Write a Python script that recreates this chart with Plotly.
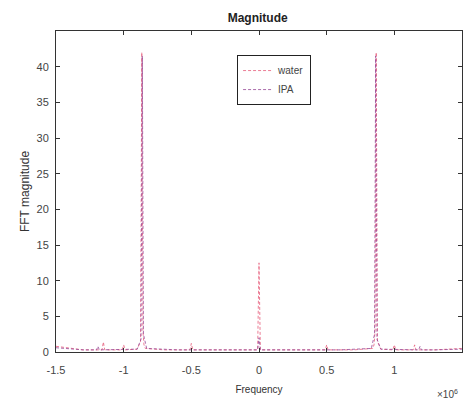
import plotly.graph_objects as go

# Frequency in units of 1e6 (axis shows x10^6 multiplier)
freq_water = [-1.5, -1.3, -1.16, -1.15, -1.14, -1.01, -1.0, -0.99, -0.9, -0.875, -0.866, -0.858,
              -0.85, -0.84, -0.7, -0.51, -0.5, -0.49, -0.3, -0.01, 0.0, 0.01, 0.3, 0.49, 0.5, 0.51,
              0.7, 0.84, 0.85, 0.858, 0.866, 0.875, 0.9, 0.99, 1.0, 1.01, 1.14, 1.15, 1.16, 1.3, 1.5]
mag_water = [0.8, 0.3, 0.3, 1.4, 0.3, 0.3, 1.0, 0.3, 0.4, 1.5, 42.0, 3.0,
             1.0, 0.5, 0.3, 0.3, 1.2, 0.3, 0.3, 0.3, 12.5, 0.3, 0.3, 0.3, 1.0, 0.3,
             0.3, 0.5, 1.0, 3.0, 42.0, 1.5, 0.4, 0.3, 1.0, 0.3, 0.3, 1.0, 0.3, 0.3, 0.5]

freq_ipa = [-1.5, -1.3, -1.2, -1.19, -1.18, -0.9, -0.872, -0.862, -0.854, -0.83, -0.6, -0.3,
            -0.01, 0.0, 0.01, 0.3, 0.6, 0.83, 0.854, 0.862, 0.872, 0.9, 1.18, 1.19, 1.2, 1.3, 1.5]
mag_ipa = [0.6, 0.3, 0.3, 0.8, 0.3, 0.4, 1.8, 41.5, 2.5, 0.5, 0.3, 0.3,
           0.3, 2.0, 0.3, 0.3, 0.3, 0.5, 2.5, 41.5, 1.8, 0.4, 0.3, 0.8, 0.3, 0.3, 0.4]

x_tickvals = [-1.5, -1.0, -0.5, 0.0, 0.5, 1.0]
x_ticktext = ["-1.5", "-1", "-0.5", "0", "0.5", "1"]
y_tickvals = [0, 5, 10, 15, 20, 25, 30, 35, 40]

fig = go.Figure()
fig.add_trace(go.Scatter(x=freq_water, y=mag_water, mode="lines", name="water",
                         line=dict(color="rgb(230,90,120)", width=0.8, dash="3px,2px")))
fig.add_trace(go.Scatter(x=freq_ipa, y=mag_ipa, mode="lines", name="IPA",
                         line=dict(color="rgb(150,70,150)", width=0.8, dash="3px,2px")))

axis_common = dict(showline=True, linecolor="#333", linewidth=1, mirror="allticks",
                   ticks="inside", ticklen=4, tickcolor="#333", showgrid=False,
                   zeroline=False, tickfont=dict(family="Liberation Sans", size=11, color="#444"))

fig.update_xaxes(range=[-1.5, 1.5], tickvals=x_tickvals, ticktext=x_ticktext,
                 ticklabelstandoff=8,
                 title=dict(text="Frequency", font=dict(family="Liberation Sans", size=10, color="#333"),
                            standoff=10), **axis_common)
fig.update_yaxes(range=[0, 45], tickvals=y_tickvals, ticklabelstandoff=4,
                 title=dict(text="FFT magnitude", font=dict(family="Liberation Sans", size=12, color="#333"),
                            standoff=4), **axis_common)

fig.update_layout(
    width=466, height=403,
    margin=dict(l=56, r=4, t=31, b=51),
    paper_bgcolor="white", plot_bgcolor="white",
    title=dict(text="<b>Magnitude</b>", x=0.553, xanchor="center", y=0.957, yanchor="middle",
               font=dict(family="Liberation Sans", size=12, color="#222")),
    showlegend=True,
    legend=dict(x=0.446, y=0.925, xanchor="left", yanchor="top", bordercolor="#222", borderwidth=1,
                bgcolor="white", font=dict(family="Liberation Sans", size=10, color="#444"),
                tracegroupgap=0, itemwidth=30),
    annotations=[dict(text="×10<sup>6</sup>", x=0.995, y=-0.13, xref="paper", yref="paper",
                      xanchor="right", yanchor="middle", showarrow=False,
                      font=dict(family="Liberation Sans", size=10, color="#444"))],
)

fig.write_html("out.html")
